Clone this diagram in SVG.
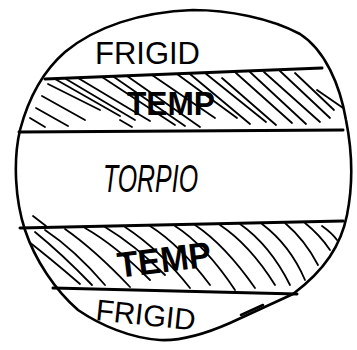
<svg xmlns="http://www.w3.org/2000/svg" width="357" height="350" viewBox="0 0 357 350">
<style>
.ink{fill:none;stroke:#000;stroke-linecap:round;stroke-linejoin:round}
.outline{stroke-width:2.6}
.band{stroke-width:3}
.hatch{stroke-width:1.8}
.lbl{font-family:"Liberation Sans",Arial,sans-serif;fill:#000}
</style>
<defs>
<clipPath id="globe">
<path d="M193,10 C228,10 270,18 300,34 C325,50 340,85 346,120 C352,150 353,185 347,215 C341,245 325,270 293,294 L230,323 C205,334 180,341 160,340 C130,338 100,325 78,310 C55,290 35,260 25,230 C15,200 13,160 20,130 C28,100 42,72 65,52 C95,27 140,12 193,10 Z"/>
</clipPath>
</defs>
<rect width="357" height="350" fill="#fff"/>
<g id="outline" class="ink outline">
<path d="M193,10 C228,10 270,18 300,34 C325,50 340,85 346,120 C352,150 353,185 347,215 C341,245 325,270 293,294 L230,323 C205,334 180,341 160,340 C130,338 100,325 78,310 C55,290 35,260 25,230 C15,200 13,160 20,130 C28,100 42,72 65,52 C95,27 140,12 193,10 Z"/>
<path d="M241,315 L263,305"/>
</g>
<g id="zone-frigid-north">
<text class="lbl" x="95" y="64" font-size="32" textLength="105" lengthAdjust="spacingAndGlyphs">FRIGID</text>
</g>
<g id="zone-temp-north">
<g class="ink hatch" clip-path="url(#globe)">
<path d="M48,84 L100,110"/><path d="M42,96 L85,120"/><path d="M36,108 L68,126"/>
<path d="M30,118 L45,127"/>
<path d="M55,79 L120,116"/><path d="M66,79 L135,120"/><path d="M78,78 L150,121"/><path d="M102,77 L175,125"/>
<path d="M114,77 L185,126"/>
<path d="M127,76 L200,127"/><path d="M152,75 L215,118"/><path d="M177,74 L237,118"/>
<path d="M190,74 L250,124"/>
<path d="M205,73 L266,122"/><path d="M222,78 L276,125"/><path d="M236,73 L292,123"/>
<path d="M250,72 L306,124"/>
<path d="M264,72 L320,122"/><path d="M280,71 L330,118"/><path d="M295,73 L334,110"/><path d="M317,90 L346,110"/>
<path d="M120,120 L132,127"/>
</g>
<text class="lbl" x="127" y="115" font-size="34" font-weight="bold" textLength="88" lengthAdjust="spacingAndGlyphs">TEMP</text>
</g>
<g id="zone-torrid">
<text class="lbl" x="103" y="192" font-size="38" font-style="italic" textLength="95" lengthAdjust="spacingAndGlyphs">TORPIO</text>
</g>
<g id="zone-temp-south">
<g class="ink hatch" clip-path="url(#globe)">
<path d="M33,216 L46,226"/>
<path d="M24,238 Q50,258 80,284"/><path d="M35,232 Q62,254 92,285"/><path d="M45,230 Q75,250 105,285"/>
<path d="M65,229 Q95,250 130,287"/><path d="M85,228 Q115,245 150,280"/>
<path d="M105,227 Q135,245 165,275"/><path d="M125,227 Q160,250 190,288"/>
<path d="M150,226 Q180,245 210,285"/><path d="M175,226 Q205,245 235,290"/>
<path d="M195,225 Q225,245 255,288"/><path d="M220,225 Q250,245 275,285"/>
<path d="M240,224 Q270,245 290,285"/><path d="M262,224 Q290,245 305,280"/>
<path d="M285,223 Q305,240 318,265"/><path d="M305,223 Q320,235 330,250"/>
<path d="M322,226 Q332,233 337,240"/>
</g>
<text class="lbl" x="117" y="272" font-size="36" font-weight="bold" textLength="94" lengthAdjust="spacingAndGlyphs" transform="rotate(-7 165 258)">TEMP</text>
</g>
<g id="zone-frigid-south">
<text class="lbl" x="95" y="320" font-size="30" textLength="100" lengthAdjust="spacingAndGlyphs" transform="rotate(6 95 320)">FRIGID</text>
</g>
<g id="connectors" class="ink band">
<path d="M45,79 L322,68"/>
<path d="M19,132 L343,130"/>
<path d="M20,228 Q180,224 343,221"/>
<path d="M53,288 L297,294"/>
</g>
</svg>
